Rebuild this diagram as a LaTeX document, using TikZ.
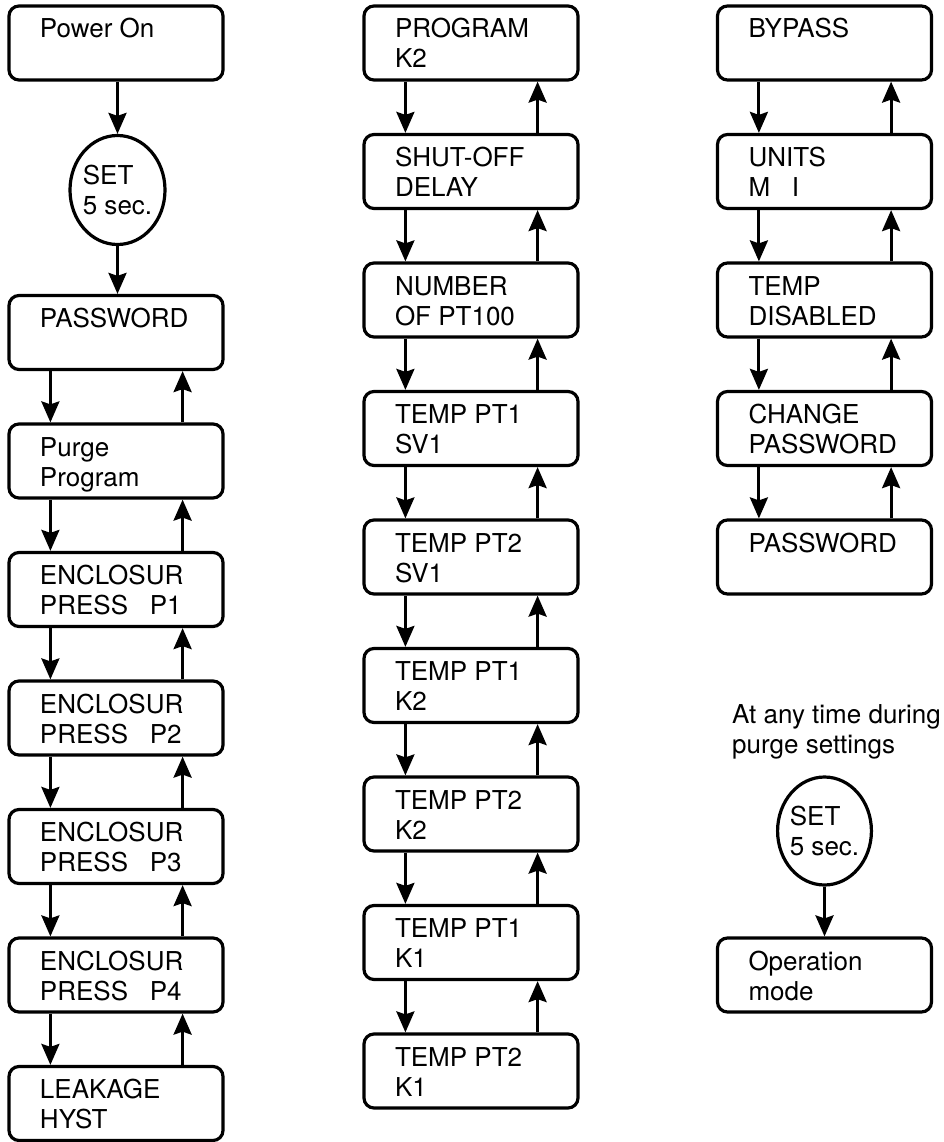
\documentclass[tikz,border=0pt]{standalone}
\usepackage{fontspec}
\setmainfont{TeX Gyre Heros}
\usetikzlibrary{shapes.geometric,arrows.meta}
\newcommand{\bx}[1]{\parbox[c][74pt][t]{214pt}{\leftskip=31pt\rightskip=0pt plus 1fill\rule{0pt}{32pt}#1}}
\tikzset{
  box/.style={draw, line width=3.2pt, rounded corners=10pt, inner sep=0pt, font=\fontsize{26pt}{30pt}\selectfont},
  oval/.style={draw, ellipse, line width=3.2pt, inner ysep=0pt, inner xsep=-1.5pt, minimum height=109pt, align=left, font=\fontsize{26pt}{30pt}\selectfont},
  arr/.style={line width=3pt, -{Stealth[length=21pt,width=18pt,inset=3pt]}},
  note/.style={inner sep=0pt, align=left, font=\fontsize{26pt}{30pt}\selectfont}
}
\newcommand{\dn}[2]{\draw[arr] ([xshift=43pt]#1.south west) -- ([xshift=43pt]#2.north west);}
\newcommand{\upa}[2]{\draw[arr] ([xshift=-42pt]#2.north east) -- ([xshift=-42pt]#1.south east);}
\newcommand{\pair}[2]{\dn{#1}{#2}\upa{#1}{#2}}
\begin{document}
\begin{tikzpicture}[x=1pt,y=-1pt]
\useasboundingbox (0,0) rectangle (944,1142);
% column 1
\node[box] (pon) at (116,43) {\bx{Power On}};
\node[oval, minimum width=95pt] (set1) at (117.5,190) {SET\\5 sec.};
\node[box] (pw1) at (116,332.5) {\bx{PASSWORD}};
\node[box] (purge) at (116,461) {\bx{Purge\\Program}};
\node[box] (p1) at (116,589.5) {\bx{ENCLOSUR\\PRESS\ \ \ P1}};
\node[box] (p2) at (116,718) {\bx{ENCLOSUR\\PRESS\ \ \ P2}};
\node[box] (p3) at (116,846.5) {\bx{ENCLOSUR\\PRESS\ \ \ P3}};
\node[box] (p4) at (116,975) {\bx{ENCLOSUR\\PRESS\ \ \ P4}};
\node[box] (leak) at (116,1103.5) {\bx{LEAKAGE\\HYST}};
\draw[arr] (set1.north |- pon.south) -- (set1.north);
\draw[arr] (set1.south) -- (set1.south |- pw1.north);
\pair{pw1}{purge}
\pair{purge}{p1}
\pair{p1}{p2}
\pair{p2}{p3}
\pair{p3}{p4}
\pair{p4}{leak}
% column 2
\node[box] (prog) at (471,43) {\bx{PROGRAM\\K2}};
\node[box] (shut) at (471,171.5) {\bx{SHUT-OFF\\DELAY}};
\node[box] (num) at (471,300) {\bx{NUMBER\\OF PT100}};
\node[box] (t1) at (471,428.5) {\bx{TEMP PT1\\SV1}};
\node[box] (t2) at (471,557) {\bx{TEMP PT2\\SV1}};
\node[box] (t3) at (471,685.5) {\bx{TEMP PT1\\K2}};
\node[box] (t4) at (471,814) {\bx{TEMP PT2\\K2}};
\node[box] (t5) at (471,942.5) {\bx{TEMP PT1\\K1}};
\node[box] (t6) at (471,1071) {\bx{TEMP PT2\\K1}};
\pair{prog}{shut}
\pair{shut}{num}
\pair{num}{t1}
\pair{t1}{t2}
\pair{t2}{t3}
\pair{t3}{t4}
\pair{t4}{t5}
\pair{t5}{t6}
% column 3
\node[box] (byp) at (824.5,43) {\bx{BYPASS}};
\node[box] (units) at (824.5,171.5) {\bx{UNITS\\M\ \ \ I}};
\node[box] (tdis) at (824.5,300) {\bx{TEMP\\DISABLED}};
\node[box] (chg) at (824.5,428.5) {\bx{CHANGE\\PASSWORD}};
\node[box] (pw2) at (824.5,557) {\bx{PASSWORD}};
\pair{byp}{units}
\pair{units}{tdis}
\pair{tdis}{chg}
\pair{chg}{pw2}
\node[note, anchor=north west] (txt) at (732,704.5) {At any time during\\purge settings};
\node[oval, minimum width=91pt, minimum height=108pt] (set2) at (824.5,831) {SET\\5 sec.};
\node[box] (op) at (824.5,975) {\bx{Operation\\mode}};
\draw[arr] (set2.south) -- (set2.south |- op.north);
\end{tikzpicture}
\end{document}
